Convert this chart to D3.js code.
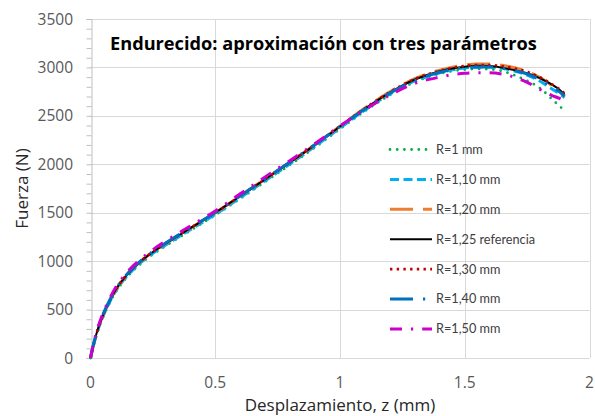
<!DOCTYPE html>
<html>
<head>
<meta charset="utf-8">
<script src="https://cdn.jsdelivr.net/npm/d3@7"></script>
<style>
  html, body { margin: 0; padding: 0; background: #fff; }
  svg { display: block; }
</style>
</head>
<body>
<svg id="chart" width="595" height="416"></svg>
<script>
// Displacement (mm) sampled along the test, shared by all series
const displacement = [0, 0.01, 0.025, 0.05, 0.075, 0.1, 0.15, 0.2, 0.25, 0.3, 0.4, 0.5, 0.6, 0.7, 0.8, 0.9, 1.0,
  1.1, 1.2, 1.3, 1.4, 1.45, 1.5, 1.55, 1.6, 1.65, 1.7, 1.75, 1.8, 1.85, 1.88, 1.9];

// Force (N) for each notch radius
const forceR100 = [0, 105, 245, 420, 560, 675, 845, 970, 1070, 1155, 1315, 1475, 1645, 1820, 1995, 2175, 2365,
  2550, 2715, 2850, 2935, 2962, 2978, 2985, 2982, 2962, 2918, 2862, 2790, 2672, 2600, 2552];
const forceR110 = [0, 110, 250, 428, 568, 688, 855, 982, 1080, 1165, 1325, 1482, 1655, 1830, 2005, 2185, 2375,
  2560, 2725, 2860, 2945, 2975, 2995, 3003, 3005, 2992, 2962, 2922, 2860, 2778, 2728, 2688];
const forceR120 = [0, 115, 260, 440, 580, 700, 870, 995, 1095, 1180, 1340, 1498, 1672, 1848, 2022, 2203, 2393,
  2580, 2748, 2885, 2972, 3003, 3025, 3035, 3036, 3022, 2996, 2958, 2898, 2812, 2755, 2700];
const forceR125 = [0, 115, 260, 440, 580, 700, 870, 995, 1095, 1180, 1340, 1500, 1672, 1845, 2020, 2200, 2390,
  2575, 2740, 2875, 2960, 2988, 3008, 3018, 3015, 2998, 2972, 2940, 2890, 2822, 2770, 2722];
const forceR130 = [0, 117, 262, 443, 583, 703, 873, 998, 1097, 1182, 1342, 1500, 1673, 1848, 2023, 2203, 2393,
  2578, 2745, 2880, 2965, 2995, 3015, 3025, 3025, 3012, 2990, 2956, 2900, 2825, 2775, 2732];
const forceR140 = [0, 120, 265, 448, 588, 707, 876, 1000, 1100, 1185, 1345, 1503, 1675, 1850, 2025, 2205, 2390,
  2572, 2735, 2865, 2950, 2980, 2998, 3005, 3005, 2992, 2968, 2932, 2875, 2798, 2748, 2705];
const forceR150 = [0, 125, 275, 460, 605, 725, 895, 1020, 1118, 1205, 1362, 1518, 1695, 1870, 2040, 2215, 2395,
  2565, 2715, 2835, 2900, 2925, 2940, 2945, 2945, 2932, 2898, 2845, 2775, 2710, 2680, 2652];

const seriesNames = ["R=1 mm", "R=1,10 mm", "R=1,20 mm", "R=1,25 referencia", "R=1,30 mm", "R=1,40 mm", "R=1,50 mm"];
const seriesValues = [forceR100, forceR110, forceR120, forceR125, forceR130, forceR140, forceR150];

const xTicks = [0, 0.5, 1, 1.5, 2];
const xTickLabels = ["0", "0.5", "1", "1.5", "2"];
const yTicks = [0, 500, 1000, 1500, 2000, 2500, 3000, 3500];

// Line appearance per series
const styles = [
  { color: "#00B050", width: 2.8, dash: "0 7.2", cap: "round" },
  { color: "#00B0F0", width: 3, dash: "9 4.5", cap: "butt" },
  { color: "#ED7D31", width: 3, dash: "23 10", cap: "butt" },
  { color: "#000000", width: 2, dash: null, cap: "butt" },
  { color: "#C00000", width: 2.6, dash: "2.4 4.3", cap: "butt" },
  { color: "#0070C0", width: 3, dash: "23 10 2.2 10", cap: "butt" },
  { color: "#CC00CC", width: 3, dash: "12 9 2.2 9", cap: "butt" }
];

const svg = d3.select("#chart");
const margin = { left: 90.5, right: 5.5, top: 19, bottom: 58 };
const W = 595, H = 416;

const x = d3.scaleLinear().domain([0, 2]).range([margin.left, W - margin.right]);
const y = d3.scaleLinear().domain([0, 3500]).range([H - margin.bottom, margin.top]);

const grid = svg.append("g");
// horizontal gridlines
grid.selectAll("line.h").data(yTicks).join("line")
  .attr("x1", x(0)).attr("x2", x(2))
  .attr("y1", d => Math.round(y(d)) + 0.5).attr("y2", d => Math.round(y(d)) + 0.5)
  .attr("stroke", "#D9D9D9").attr("stroke-width", 1);
// vertical gridlines
grid.selectAll("line.v").data(xTicks.slice(1)).join("line")
  .attr("x1", d => Math.round(x(d)) + 0.5).attr("x2", d => Math.round(x(d)) + 0.5)
  .attr("y1", y(0)).attr("y2", y(3500))
  .attr("stroke", "#D9D9D9").attr("stroke-width", 1);

// left axis with minor ticks every 100 N
const yAxis = d3.axisLeft(y).tickValues(d3.range(0, 3501, 100)).tickSize(5).tickFormat("");
const yAxisG = svg.append("g").attr("transform", `translate(${Math.round(x(0)) + 0.5},0)`).call(yAxis);
yAxisG.select(".domain").attr("stroke", "#BFBFBF");
yAxisG.selectAll(".tick line").attr("stroke", "#BFBFBF");

const tickFont = "'Open Sans', sans-serif";
svg.append("g").selectAll("text").data(yTicks).join("text")
  .attr("x", 73).attr("y", d => y(d))
  .attr("dy", "0.36em")
  .attr("text-anchor", "end")
  .attr("font-family", tickFont).attr("font-size", 15.5)
  .attr("fill", "#595959")
  .text(d => d);

svg.append("g").selectAll("text").data(xTicks).join("text")
  .attr("x", d => x(d)).attr("y", 382)
  .attr("dy", "0.36em")
  .attr("text-anchor", "middle")
  .attr("font-family", tickFont).attr("font-size", 15.5)
  .attr("fill", "#595959")
  .text((d, i) => xTickLabels[i]);

// series
const line = d3.line()
  .x((d, i) => x(displacement[i]))
  .y(d => y(d))
  .curve(d3.curveMonotoneX);

const plot = svg.append("g");
seriesValues.forEach((vals, i) => {
  const s = styles[i];
  plot.append("path")
    .datum(vals)
    .attr("d", line)
    .attr("fill", "none")
    .attr("stroke", s.color)
    .attr("stroke-width", s.width)
    .attr("stroke-linecap", s.cap)
    .attr("stroke-linejoin", "round")
    .attr("stroke-dasharray", s.dash);
});

// legend
const legend = svg.append("g");
seriesNames.forEach((name, i) => {
  const s = styles[i];
  const ly = 149.5 + i * 29.9;
  legend.append("line")
    .attr("x1", 390).attr("x2", 432)
    .attr("y1", ly).attr("y2", ly)
    .attr("stroke", s.color)
    .attr("stroke-width", s.width)
    .attr("stroke-linecap", s.cap)
    .attr("stroke-dasharray", s.dash);
  legend.append("text")
    .attr("x", 436).attr("y", ly)
    .attr("dy", "0.35em")
    .attr("font-family", "Lato, sans-serif").attr("font-size", 12.7)
    .attr("fill", "#404040")
    .text(name);
});

// title
svg.append("text")
  .attr("x", 110).attr("y", 50)
  .attr("font-family", "'Open Sans', sans-serif").attr("font-weight", "bold").attr("font-size", 18.2)
  .attr("fill", "#000")
  .text("Endurecido: aproximación con tres parámetros");

// axis titles
svg.append("text")
  .attr("x", x(1)).attr("y", 411)
  .attr("text-anchor", "middle")
  .attr("font-family", "'Open Sans', sans-serif").attr("font-size", 17)
  .attr("fill", "#262626")
  .text("Desplazamiento, z (mm)");

svg.append("text")
  .attr("transform", `translate(28,${y(1750)}) rotate(-90)`)
  .attr("text-anchor", "middle")
  .attr("font-family", "'Open Sans', sans-serif").attr("font-size", 17)
  .attr("fill", "#262626")
  .text("Fuerza (N)");
</script>
</body>
</html>
